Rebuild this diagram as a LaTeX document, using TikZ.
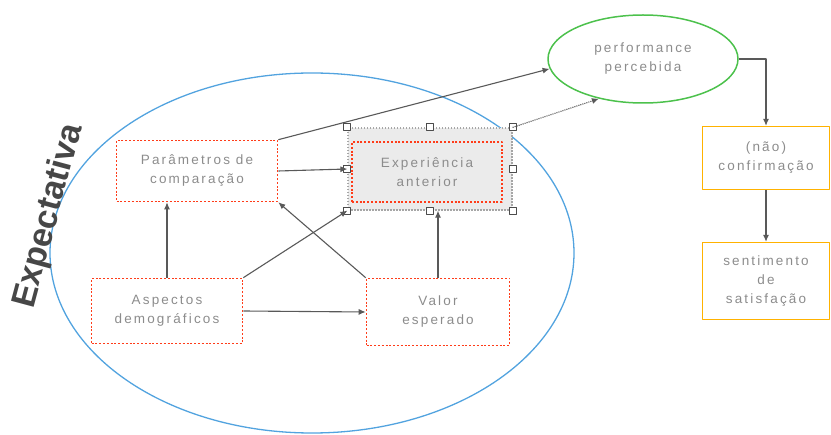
\documentclass[tikz,border=0pt]{standalone}
\usepackage{fontspec}
\setmainfont{Liberation Sans}
\newfontfamily\boxfont[LetterSpace=16]{Liberation Sans}
\usetikzlibrary{arrows.meta,shapes.geometric}
\tikzset{
  caixa/.style={draw=red!70!orange!90, dash pattern=on 2pt off 1.8pt, line cap=butt, line width=1.6pt, align=center,
    font=\boxfont\fontsize{13.5}{19}\selectfont, text=black!45},
  laranja/.style={draw=orange!60!yellow, line width=1.3pt, align=center,
    font=\boxfont\fontsize{13.5}{19}\selectfont, text=black!45},
  seta/.style={-{Latex[length=7pt,width=6pt]}, draw=black!65, line width=1.1pt},
  alca/.style={draw=black!70, fill=white, line width=0.9pt, minimum size=7pt, inner sep=0pt}
}
\begin{document}
\begin{tikzpicture}[x=1pt, y=-1pt, line join=round]
  \useasboundingbox (0,0) rectangle (831,435);
  % o grande circulo da expectativa
  \draw[cyan!70!blue!70, line width=1.3pt] (312,253) ellipse (262 and 180);
  \node[rotate=75, font=\bfseries\fontsize{34}{36}\selectfont, text=black!72] (expect) at (49,216) {Expectativa};
  % a selecao em volta da experiencia anterior
  \node[draw=black!35, dash pattern=on 1.5pt off 1.5pt, fill=black!8, line width=1.2pt,
    minimum width=164pt, minimum height=82pt] (sel) at (430,169) {};
  % as quatro caixas
  \node[caixa, minimum width=161pt, minimum height=61pt] (par) at (197,171) {Parâmetros de\\comparação};
  \node[caixa, minimum width=150pt, minimum height=60pt] (exp) at (427,172) {Experiência\\anterior};
  \node[caixa, minimum width=151pt, minimum height=65pt] (asp) at (167,311) {Aspectos\\demográficos};
  \node[caixa, minimum width=143pt, minimum height=67pt] (val) at (438,312) {Valor\\esperado};
  \foreach \a in {north west, north, north east, west, east, south west, south, south east} {
    \node[alca] at (sel.\a) {};
  }
  % a performance e o resultado
  \node[ellipse, draw=green!65!black!70, line width=1.5pt, minimum width=190pt, minimum height=88pt,
    align=center, font=\boxfont\fontsize{13.5}{19}\selectfont, text=black!45] (perf) at (643,59) {performance\\percebida};
  \node[laranja, minimum width=127pt, minimum height=63pt] (conf) at (766,158) {(não)\\confirmação};
  \node[laranja, minimum width=127pt, minimum height=77pt] (sent) at (766,281) {sentimento\\de\\satisfação};
  % as setas
  \draw[seta] (par.north east) -- (perf.186);
  \draw[seta, densely dotted] (sel.north east) -- (perf.222);
  \draw[seta] (par.east) -- (sel.west);
  \draw[seta] (asp.north) -- (asp.north |- par.south);
  \draw[seta] (val.north) -- (val.north |- sel.south);
  \draw[seta] (asp.north east) -- (sel.south west);
  \draw[seta] (val.north west) -- (par.south east);
  \draw[seta] (asp.east) -- (val.west);
  \draw[seta] (perf.east) -| (conf.north);
  \draw[seta] (conf.south) -- (sent.north);
\end{tikzpicture}
\end{document}
